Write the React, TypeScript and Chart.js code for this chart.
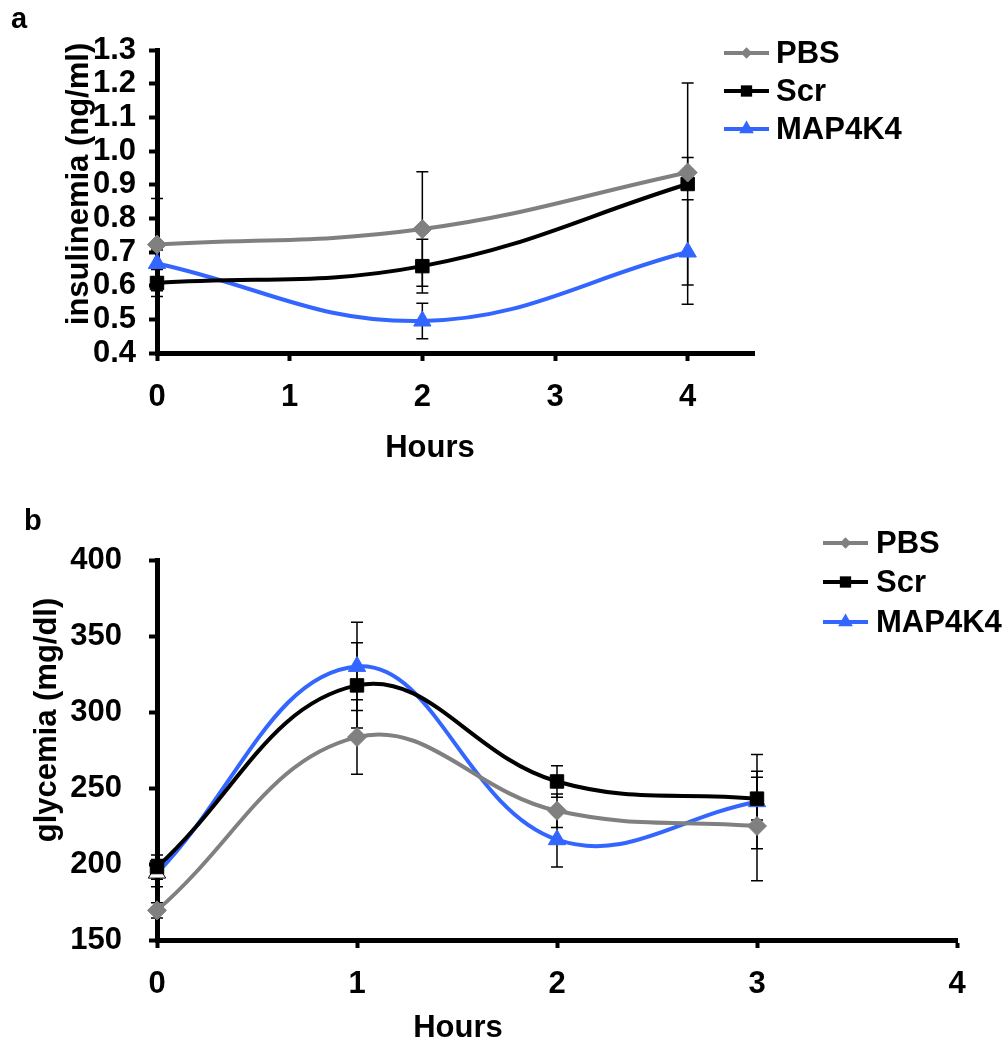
import React, { useEffect, useRef } from "react";
import { Chart, registerables } from "chart.js";

Chart.register(...registerables);

// ---------- shared series info ----------
const seriesNames = ["PBS", "Scr", "MAP4K4"];
const seriesColors = ["#808080", "#000000", "#3366ff"];
const seriesPointStyles = ["rectRot", "rect", "triangle"];
const seriesPointRadius = [9.5, 9.5, 10];

// ---------- panel a : insulinemia ----------
const hoursA = [0, 2, 4];
const xTicksA = [0, 1, 2, 3, 4];
const yTicksA = [0.4, 0.5, 0.6, 0.7, 0.8, 0.9, 1.0, 1.1, 1.2, 1.3];
const pbsA = [0.722, 0.768, 0.936];
const pbsErrA = [0.137, 0.17, 0.045];
const scrA = [0.608, 0.658, 0.902];
const scrErrA = [0.04, 0.08, 0.3];
const mapA = [0.666, 0.495, 0.7];
const mapErrA = [0.04, 0.053, 0.155];

// ---------- panel b : glycemia ----------
const hoursB = [0, 1, 2, 3];
const xTicksB = [0, 1, 2, 3, 4];
const yTicksB = [150, 200, 250, 300, 350, 400];
const pbsB = [169.5, 283.5, 235, 225];
const pbsErrB = [5, 24.5, 11, 36];
const scrB = [198, 317.5, 254.3, 243];
const scrErrB = [8, 28, 10.4, 14];
const mapB = [194, 330, 216, 241];
const mapErrB = [9, 29, 18, 31];

const FONT = "'Liberation Sans', Arial, sans-serif";

type PanelCfg = {
  canvasH: number;
  area: { left: number; top: number; right: number; bottom: number };
  xMin: number;
  xMax: number;
  yMin: number;
  yMax: number;
  xTicks: number[];
  yTicks: number[];
  yDecimals: number;
  yPad: number;
  xPad: number;
  hours: number[];
  values: number[][];
  errors: number[][];
  pointBg?: (string | null)[][];
  letter: string;
  letterPos: [number, number];
  xTitle: string;
  xTitlePos: [number, number];
  yTitle: string;
  yTitlePos: [number, number];
  legend: { x0: number; x1: number; tx: number; rows: number[] };
};

const panelA: PanelCfg = {
  canvasH: 490,
  area: { left: 157, top: 50, right: 754, bottom: 353 },
  xMin: 0,
  xMax: 4.5,
  yMin: 0.4,
  yMax: 1.3,
  xTicks: xTicksA,
  yTicks: yTicksA,
  yDecimals: 1,
  yPad: 13,
  xPad: 21,
  hours: hoursA,
  values: [pbsA, scrA, mapA],
  errors: [pbsErrA, scrErrA, mapErrA],
  letter: "a",
  letterPos: [11, 28],
  xTitle: "Hours",
  xTitlePos: [430, 457],
  yTitle: "insulinemia (ng/ml)",
  yTitlePos: [79, 184],
  legend: { x0: 724, x1: 769, tx: 776, rows: [53, 91, 129] },
};

const panelB: PanelCfg = {
  canvasH: 551,
  area: { left: 157, top: 70, right: 957, bottom: 450 },
  xMin: 0,
  xMax: 4,
  yMin: 150,
  yMax: 400,
  xTicks: xTicksB,
  yTicks: yTicksB,
  yDecimals: 0,
  yPad: 27,
  xPad: 21,
  hours: hoursB,
  values: [pbsB, scrB, mapB],
  errors: [pbsErrB, scrErrB, mapErrB],
  pointBg: [[null, null, null, null], [null, null, null, null], ["#ffffff", null, null, null]],
  letter: "b",
  letterPos: [24, 40],
  xTitle: "Hours",
  xTitlePos: [458, 547],
  yTitle: "glycemia (mg/dl)",
  yTitlePos: [47, 230],
  legend: { x0: 823, x1: 868, tx: 876, rows: [53, 92, 132] },
};

const errorBarPlugin = {
  id: "errorBars",
  beforeDatasetsDraw(chart: any) {
    const ctx = chart.ctx;
    const xs = chart.scales.x;
    const ys = chart.scales.y;
    ctx.save();
    ctx.strokeStyle = "#000";
    ctx.lineWidth = 1.5;
    chart.data.datasets.forEach((ds: any) => {
      const errs: number[] = ds.errors;
      if (!errs) return;
      ds.data.forEach((p: any, i: number) => {
        const e = errs[i];
        const x = xs.getPixelForValue(p.x);
        const yHi = ys.getPixelForValue(p.y + e);
        const yLo = ys.getPixelForValue(p.y - e);
        ctx.beginPath();
        ctx.moveTo(x, yHi);
        ctx.lineTo(x, yLo);
        ctx.moveTo(x - 6, yHi);
        ctx.lineTo(x + 6, yHi);
        ctx.moveTo(x - 6, yLo);
        ctx.lineTo(x + 6, yLo);
        ctx.stroke();
      });
    });
    ctx.restore();
  },
};

function drawMarker(ctx: CanvasRenderingContext2D, style: string, x: number, y: number, r: number, color: string) {
  ctx.save();
  ctx.fillStyle = color;
  ctx.beginPath();
  if (style === "rectRot") {
    const s = r * Math.SQRT1_2;
    ctx.moveTo(x - s, y);
    ctx.lineTo(x, y + s);
    ctx.lineTo(x + s, y);
    ctx.lineTo(x, y - s);
  } else if (style === "rect") {
    const s = r * Math.SQRT1_2;
    ctx.rect(x - s, y - s, 2 * s, 2 * s);
  } else {
    ctx.moveTo(x, y - r);
    ctx.lineTo(x + r * 0.866, y + r / 2);
    ctx.lineTo(x - r * 0.866, y + r / 2);
  }
  ctx.closePath();
  ctx.fill();
  ctx.restore();
}

function makeTextPlugin(cfg: PanelCfg) {
  return {
    id: "panelText",
    afterDraw(chart: any) {
      const ctx: CanvasRenderingContext2D = chart.ctx;
      ctx.save();
      ctx.fillStyle = "#000";
      // panel letter
      ctx.font = `bold 29px ${FONT}`;
      ctx.textAlign = "left";
      ctx.textBaseline = "alphabetic";
      ctx.fillText(cfg.letter, cfg.letterPos[0], cfg.letterPos[1]);
      // x title
      ctx.font = `bold 31px ${FONT}`;
      ctx.textAlign = "center";
      ctx.fillText(cfg.xTitle, cfg.xTitlePos[0], cfg.xTitlePos[1]);
      // y title
      ctx.save();
      ctx.translate(cfg.yTitlePos[0], cfg.yTitlePos[1]);
      ctx.rotate(-Math.PI / 2);
      ctx.textAlign = "center";
      ctx.textBaseline = "middle";
      ctx.fillText(cfg.yTitle, 0, 0);
      ctx.restore();
      // legend
      chart.data.datasets.forEach((ds: any, i: number) => {
        const y = cfg.legend.rows[i];
        ctx.strokeStyle = ds.borderColor;
        ctx.lineWidth = 4;
        ctx.beginPath();
        ctx.moveTo(cfg.legend.x0, y);
        ctx.lineTo(cfg.legend.x1, y);
        ctx.stroke();
        const mx = (cfg.legend.x0 + cfg.legend.x1) / 2;
        const r = ds.pointStyle === "triangle" ? 8.5 : 8;
        drawMarker(ctx, ds.pointStyle, mx, y, r, ds.borderColor);
        ctx.fillStyle = "#000";
        ctx.font = `bold 31px ${FONT}`;
        ctx.textAlign = "left";
        ctx.textBaseline = "middle";
        ctx.fillText(ds.label, cfg.legend.tx, y + 1);
      });
      ctx.restore();
    },
  };
}

function Panel({ cfg }: { cfg: PanelCfg }) {
  const ref = useRef<HTMLCanvasElement | null>(null);
  useEffect(() => {
    const canvas = ref.current;
    if (!canvas) return;
    const datasets = seriesNames.map((name, i) => {
      const bg = cfg.values[i].map((_, j) =>
        cfg.pointBg && cfg.pointBg[i][j] ? (cfg.pointBg[i][j] as string) : seriesColors[i]
      );
      const bc = cfg.values[i].map((_, j) =>
        cfg.pointBg && cfg.pointBg[i][j] ? "#000000" : seriesColors[i]
      );
      return {
        label: name,
        data: cfg.hours.map((h, j) => ({ x: h, y: cfg.values[i][j] })),
        errors: cfg.errors[i],
        borderColor: seriesColors[i],
        backgroundColor: seriesColors[i],
        pointBackgroundColor: bg,
        pointBorderColor: bc,
        pointBorderWidth: 1,
        borderWidth: 4,
        pointStyle: seriesPointStyles[i],
        pointRadius: seriesPointRadius[i],
        tension: 0.4,
        clip: false,
      };
    });
    const tickFont = { family: FONT, size: 31, weight: "bold" as const, lineHeight: 1 };
    const chart = new Chart(canvas, {
      type: "line",
      data: { datasets: datasets as any },
      options: {
        animation: false,
        responsive: false,
        devicePixelRatio: 1,
        layout: {
          padding: {
            left: 0,
            top: cfg.area.top,
            right: 1005 - cfg.area.right,
            bottom: 0,
          },
        },
        plugins: { legend: { display: false }, tooltip: { enabled: false } },
        scales: {
          x: {
            type: "linear",
            min: cfg.xMin,
            max: cfg.xMax,
            afterBuildTicks: (s: any) => {
              s.ticks = cfg.xTicks.map((v) => ({ value: v }));
            },
            afterFit: (s: any) => {
              s.height = cfg.canvasH - cfg.area.bottom;
            },
            border: { display: true, width: 5, color: "#000" },
            grid: {
              display: true,
              drawOnChartArea: false,
              drawTicks: true,
              tickLength: 8,
              tickWidth: 4,
              tickColor: "#000",
            },
            ticks: {
              autoSkip: false,
              maxRotation: 0,
              color: "#000",
              font: tickFont,
              padding: cfg.xPad,
              callback: (v: any) => String(v),
            },
          },
          y: {
            type: "linear",
            min: cfg.yMin,
            max: cfg.yMax,
            afterBuildTicks: (s: any) => {
              s.ticks = cfg.yTicks.map((v) => ({ value: v }));
            },
            afterFit: (s: any) => {
              s.width = cfg.area.left;
            },
            border: { display: true, width: 5, color: "#000" },
            grid: {
              display: true,
              drawOnChartArea: false,
              drawTicks: true,
              tickLength: 8,
              tickWidth: 4,
              tickColor: "#000",
            },
            ticks: {
              autoSkip: false,
              color: "#000",
              font: tickFont,
              padding: cfg.yPad,
              callback: (v: any) => Number(v).toFixed(cfg.yDecimals),
            },
          },
        },
      } as any,
      plugins: [errorBarPlugin, makeTextPlugin(cfg)],
    });
    return () => chart.destroy();
  }, [cfg]);
  return (
    <canvas
      ref={ref}
      width={1005}
      height={cfg.canvasH}
      style={{ display: "block", width: 1005, height: cfg.canvasH }}
    />
  );
}

export default function App() {
  return (
    <div
      style={{
        position: "absolute",
        left: 0,
        top: 0,
        width: 1005,
        height: 1041,
        background: "#ffffff",
      }}
    >
      <Panel cfg={panelA} />
      <Panel cfg={panelB} />
    </div>
  );
}
